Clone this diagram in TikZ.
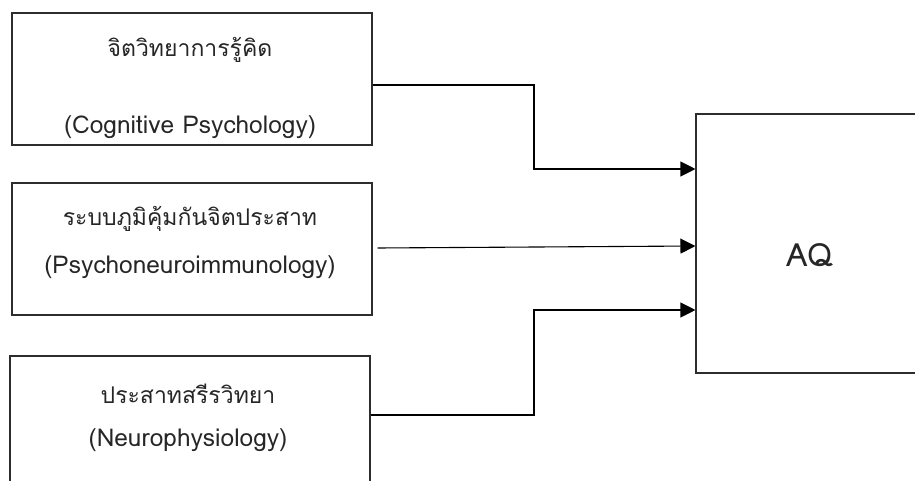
\documentclass[tikz,border=0pt]{standalone}
\usepackage{fontspec}
\setmainfont[Script=Thai]{Loma}
\usetikzlibrary{arrows.meta, calc, positioning}
\definecolor{edge}{RGB}{45,45,45}

\tikzset{
  block/.style={draw=edge, line width=1.1pt, minimum width=360pt,
                minimum height=132pt, inner sep=0pt},
  txt/.style={inner sep=0pt, text=black!85, font=\fontsize{23}{27}\selectfont},
  txtEn/.style={txt, font=\fontsize{24.5}{29}\selectfont},
  link/.style={draw=black, line width=1.1pt,
               -{Triangle[length=15pt, width=15pt]}}
}

\begin{document}
\begin{tikzpicture}[x=1pt, y=-1pt]
    \useasboundingbox (0,0) rectangle (915,481);
    \clip (0,0) rectangle (915,481);

    %% --- Three source boxes on the left ---
    \node[block] (cog) at (192,79)  {};
    \node[block] (pni) at (192,249) {};
    \node[block] (neu) at (190,422) {};

    %% Box texts (Thai name, then English name)
    \node[txt]   (cogTH) at (190,50)  {จิตวิทยาการรู้คิด};
    \node[txtEn] (cogEN) at (190,127) {(Cognitive Psychology)};
    \node[txt]   (pniTH) at (190,219) {ระบบภูมิคุ้มกันจิตประสาท};
    \node[txtEn] (pniEN) at (190,267) {(Psychoneuroimmunology)};
    \node[txt]   (neuTH) at (188,394) {ประสาทสรีรวิทยา};
    \node[txtEn] (neuEN) at (188,440) {(Neurophysiology)};

    %% --- Target box ---
    \node[block, minimum width=300pt, minimum height=259pt] (aq) at (846,243.5) {};
    \node[txt, font=\fontsize{32}{38}\selectfont] (aqTxt) at (810,255) {AQ};

    %% --- Connectors ---
    \coordinate (k1) at (534,169);
    \coordinate (k3) at (534,310);

    \draw[link] ($(cog.east)+(0,6)$) -| (k1) -- (aq.west |- k1);
    \draw[link] ($(pni.east)+(5,-1)$) -- ($(aq.west)+(0,2.5)$);
    \draw[link] ($(neu.east)+(0,-7)$) -| (k3) -- (aq.west |- k3);

\end{tikzpicture}
\end{document}
